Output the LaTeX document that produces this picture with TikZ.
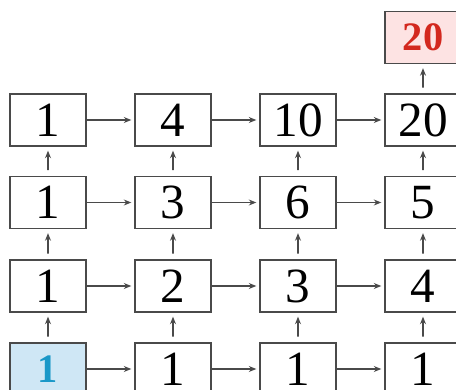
\documentclass[tikz,border=0pt]{standalone}
\usepackage{fontspec}
\setmainfont{Liberation Serif}
\usepackage{tikz}
\usetikzlibrary{arrows.meta}
\usepackage{xcolor}
\definecolor{cellline}{HTML}{4A4A4A}
\definecolor{startfill}{HTML}{CFE7F5}
\definecolor{starttext}{HTML}{1A98C8}
\definecolor{goalfill}{HTML}{FDE3E3}
\definecolor{goaltext}{HTML}{D3281E}

\begin{document}
\begin{tikzpicture}[>={Stealth[length=1.5mm,width=1.2mm]},line cap=round,
  cell/.style={draw=cellline,line width=0.8pt,minimum width=1.52cm,minimum height=1.04cm,inner sep=0pt,font=\fontsize{28}{30}\selectfont},
  step arrow/.style={->,cellline,line width=0.6pt}]
\useasboundingbox (0,0) rectangle (9.12,7.8);
% bottom row
\node[cell,fill=startfill,text=starttext,font=\fontsize{23}{25}\selectfont\bfseries] (a1) at (0.96,0.42) {1};
\node[cell] (b1) at (3.46,0.42) {1};
\node[cell] (c1) at (5.96,0.42) {1};
\node[cell] (d1) at (8.46,0.42) {1};
% second row
\node[cell] (a2) at (0.96,2.08) {1};
\node[cell] (b2) at (3.46,2.08) {2};
\node[cell] (c2) at (5.96,2.08) {3};
\node[cell] (d2) at (8.46,2.08) {4};
% third row
\node[cell] (a3) at (0.96,3.75) {1};
\node[cell] (b3) at (3.46,3.75) {3};
\node[cell] (c3) at (5.96,3.75) {6};
\node[cell] (d3) at (8.46,3.75) {5};
% top row
\node[cell] (a4) at (0.96,5.4) {1};
\node[cell] (b4) at (3.46,5.4) {4};
\node[cell] (c4) at (5.96,5.4) {10};
\node[cell] (d4) at (8.46,5.4) {20};
% result
\node[cell,fill=goalfill,text=goaltext,font=\fontsize{23}{25}\selectfont\bfseries] (goal) at (8.46,7.05) {20};
% horizontal arrows
\draw[step arrow,shorten >=0.06cm] (a1) -- (b1);
\draw[step arrow,shorten >=0.06cm] (b1) -- (c1);
\draw[step arrow,shorten >=0.06cm] (c1) -- (d1);
\draw[step arrow,shorten >=0.06cm] (a2) -- (b2);
\draw[step arrow,shorten >=0.06cm] (b2) -- (c2);
\draw[step arrow,shorten >=0.06cm] (c2) -- (d2);
\draw[step arrow,shorten >=0.06cm] (a3) -- (b3);
\draw[step arrow,shorten >=0.06cm] (b3) -- (c3);
\draw[step arrow,shorten >=0.06cm] (c3) -- (d3);
\draw[step arrow,shorten >=0.06cm] (a4) -- (b4);
\draw[step arrow,shorten >=0.06cm] (b4) -- (c4);
\draw[step arrow,shorten >=0.06cm] (c4) -- (d4);
% vertical arrows
\draw[step arrow,shorten <=0.12cm,shorten >=0.08cm] (a1) -- (a2);
\draw[step arrow,shorten <=0.12cm,shorten >=0.08cm] (b1) -- (b2);
\draw[step arrow,shorten <=0.12cm,shorten >=0.08cm] (c1) -- (c2);
\draw[step arrow,shorten <=0.12cm,shorten >=0.08cm] (d1) -- (d2);
\draw[step arrow,shorten <=0.12cm,shorten >=0.08cm] (a2) -- (a3);
\draw[step arrow,shorten <=0.12cm,shorten >=0.08cm] (b2) -- (b3);
\draw[step arrow,shorten <=0.12cm,shorten >=0.08cm] (c2) -- (c3);
\draw[step arrow,shorten <=0.12cm,shorten >=0.08cm] (d2) -- (d3);
\draw[step arrow,shorten <=0.12cm,shorten >=0.08cm] (a3) -- (a4);
\draw[step arrow,shorten <=0.12cm,shorten >=0.08cm] (b3) -- (b4);
\draw[step arrow,shorten <=0.12cm,shorten >=0.08cm] (c3) -- (c4);
\draw[step arrow,shorten <=0.12cm,shorten >=0.08cm] (d3) -- (d4);
\draw[step arrow,shorten <=0.12cm,shorten >=0.08cm] (d4) -- (goal);
\end{tikzpicture}
\end{document}
